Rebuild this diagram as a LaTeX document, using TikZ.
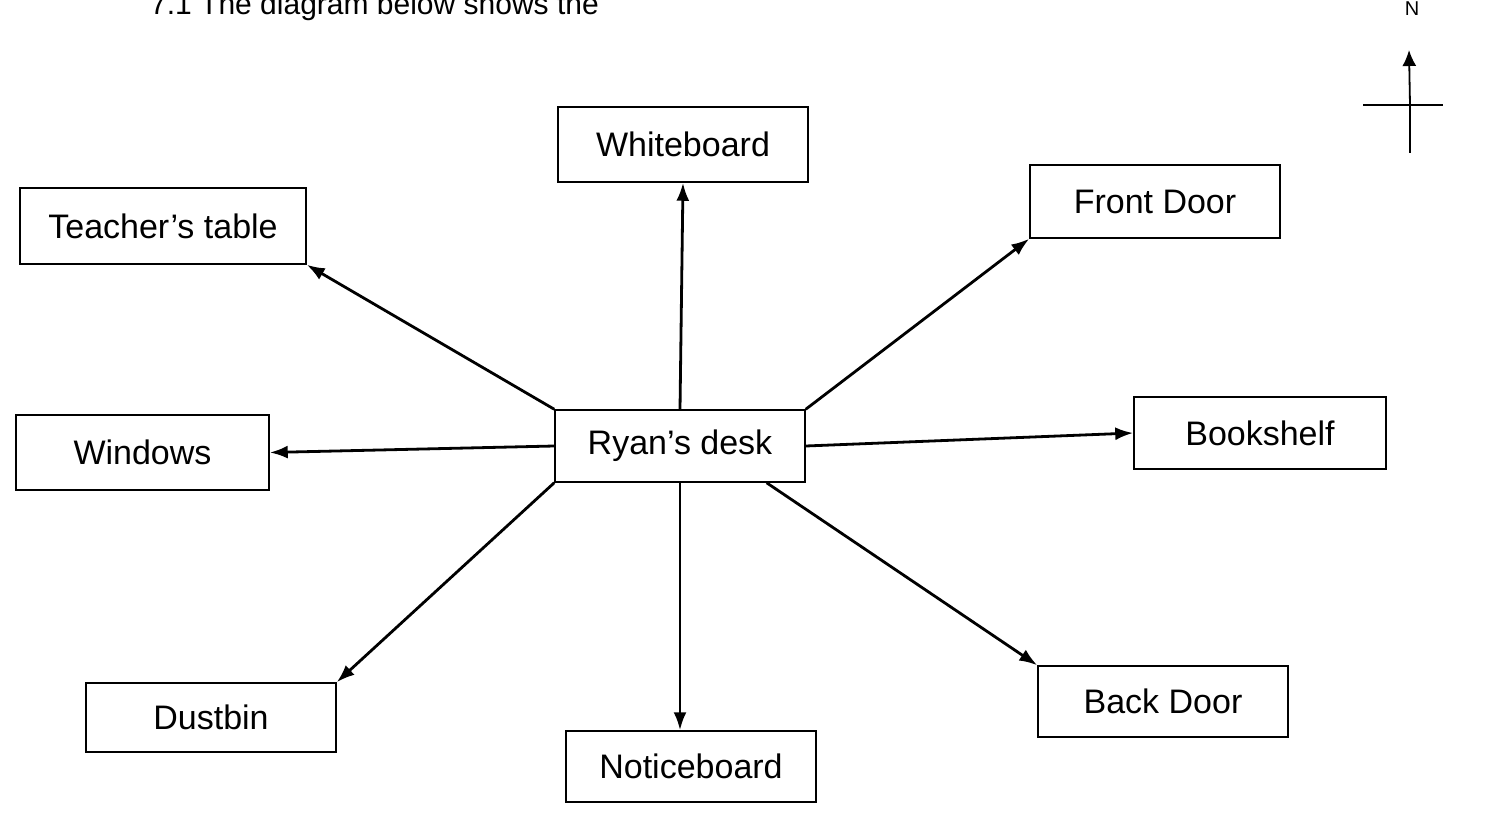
\documentclass[tikz,border=0pt]{standalone}
\usepackage{fontspec}
\setmainfont{Liberation Sans}
\usetikzlibrary{arrows.meta}
\begin{document}
\begin{tikzpicture}[x=1pt,y=-1pt,
  place/.style={draw=black, line width=1.5pt, minimum width=250pt, minimum height=72pt, inner sep=0pt, font=\fontsize{34}{40}\selectfont},
  link/.style={line width=2.8pt, -{Latex[length=18pt,width=13pt]}},
  plain/.style={line width=1.8pt}]
\useasboundingbox (0,0) rectangle (1502,835);
\begin{scope}
\clip (0,0) rectangle (1502,835);
\node[anchor=base west, font=\fontsize{30}{36}\selectfont, inner sep=0pt] (head) at (150,14) {7.1 The diagram below shows the};
\end{scope}
% compass
\node[font=\fontsize{20}{24}\selectfont, inner sep=0pt, anchor=base] (N) at (1412,16) {N};
\coordinate (cc) at (1410,105);
\coordinate (ctop) at (1409,50);
\coordinate (cw) at (1363,105);
\coordinate (ce) at (1443,105);
\coordinate (cs) at (1410,153);
\draw[line width=1.8pt, -{Latex[length=16pt,width=14pt]}] (cc) -- (ctop);
\draw[plain] (cw) -- (ce);
\draw[plain] (cc) -- (cs);
% places
\node[place, minimum width=250pt, minimum height=75pt] (white) at (683,144.5) {Whiteboard};
\node[place, minimum width=286pt, minimum height=76pt] (teacher) at (163,226) {Teacher’s table};
\node[place, minimum width=250pt, minimum height=73pt] (front) at (1155,201.5) {Front Door};
\node[place, minimum width=253pt, minimum height=75pt] (windows) at (142.5,452.5) {Windows};
\node[place, minimum width=250pt, minimum height=72pt] (desk) at (680,446) {Ryan’s desk};
\node[place, minimum width=252pt, minimum height=72pt] (book) at (1260,433) {Bookshelf};
\node[place, minimum width=250pt, minimum height=69pt] (dust) at (211,717.5) {Dustbin};
\node[place, minimum width=250pt, minimum height=71pt] (notice) at (691,766.5) {Noticeboard};
\node[place, minimum width=250pt, minimum height=71pt] (back) at (1163,701.5) {Back Door};
% arrows
\draw[link] (desk.north) -- (white.south);
\draw[link] (desk.south) -- (desk.south |- notice.north);
\draw[link] (desk.north west) -- (teacher.south east);
\draw[link] (desk.north east) -- (front.south west);
\draw[link] (desk.west) -- (windows.east);
\draw[link] (desk.east) -- (book.west);
\draw[link] (desk.south west) -- (dust.north east);
\draw[link] (desk.-23.4) -- (back.north west);
\end{tikzpicture}
\end{document}
